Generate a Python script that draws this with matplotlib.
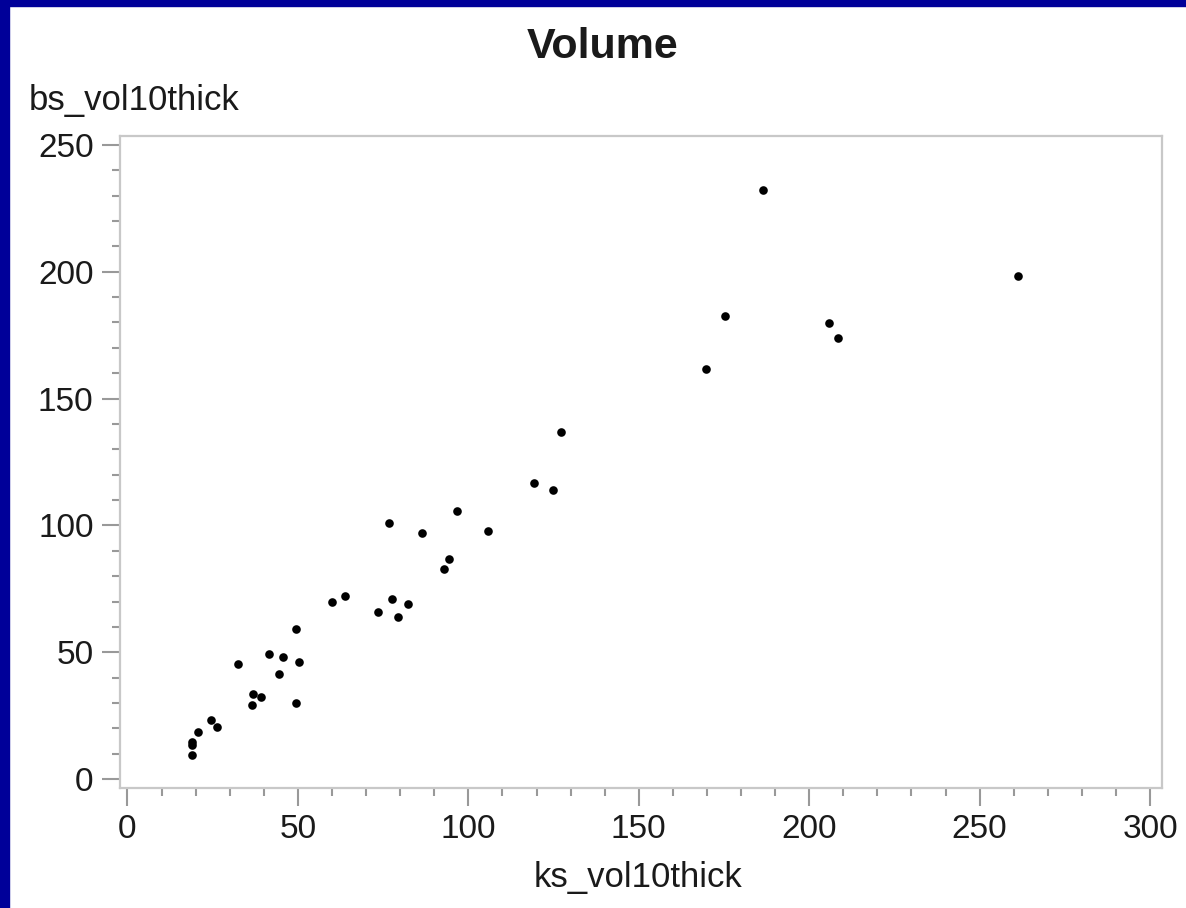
import matplotlib.pyplot as plt
from matplotlib.patches import Rectangle
from matplotlib.ticker import MultipleLocator

# Values
ks_vol10thick = [18.9, 18.9, 18.9, 20.8, 24.5, 26.4, 32.5, 36.7, 36.6, 39.2,
                 41.5, 44.5, 45.5, 49.4, 50.3, 49.4, 59.9, 63.8, 73.6, 77.5,
                 79.3, 82.4, 76.8, 86.3, 92.9, 94.3, 96.6, 105.7, 119.3, 124.9,
                 127.2, 169.7, 175.3, 186.5, 205.8, 208.4, 261.3]
bs_vol10thick = [9.5, 13.4, 14.8, 18.4, 23.3, 20.4, 45.2, 33.4, 29.2, 32.2,
                 49.3, 41.3, 48.2, 59.0, 46.3, 30.2, 69.9, 72.2, 66.0, 71.0,
                 64.0, 69.0, 100.8, 96.9, 82.9, 86.9, 105.8, 97.9, 116.6, 114.0,
                 136.8, 161.7, 182.6, 232.3, 179.8, 173.9, 198.3]

TEXT = '#1a1a1a'
FRAME = '#c8c8c8'
TICK = '#999999'
BORDER = '#000099'

plt.rcParams['font.family'] = ['Liberation Sans', 'DejaVu Sans']

fig = plt.figure(figsize=(11.86, 9.08), dpi=100)
fig.patch.set_facecolor('white')

# blue slide border on the left and top
fig.patches.append(Rectangle((0, 0), 8.5 / 1186, 1, transform=fig.transFigure,
                             color=BORDER, zorder=0))
fig.patches.append(Rectangle((0, 1 - 6 / 908), 1, 6 / 908, transform=fig.transFigure,
                             color=BORDER, zorder=0))

ax = fig.add_axes([120 / 1186, 1 - 788 / 908, 1042 / 1186, 652 / 908])
ax.plot(ks_vol10thick, bs_vol10thick, 'o', color='black', ms=6.2, mec='none')

ax.set_xlim(-2.2, 303.5)
ax.set_ylim(-3.5, 253.5)
ax.xaxis.set_major_locator(MultipleLocator(50))
ax.xaxis.set_minor_locator(MultipleLocator(10))
ax.yaxis.set_major_locator(MultipleLocator(50))
ax.yaxis.set_minor_locator(MultipleLocator(10))

for s in ax.spines.values():
    s.set_color(FRAME)
    s.set_linewidth(1.6)

ax.tick_params(which='major', direction='out', length=13, width=1.5,
               color=TICK, labelsize=24, labelcolor=TEXT, pad=6)
ax.tick_params(which='minor', direction='out', length=6, width=1.5, color=TICK)

fig.text(603 / 1186, 1 - 58 / 908, 'Volume', ha='center', va='baseline',
         fontsize=31, fontweight='bold', color=TEXT)
fig.text(29 / 1186, 1 - 110 / 908, 'bs_vol10thick', ha='left', va='baseline',
         fontsize=25, color=TEXT)
fig.text(638 / 1186, 1 - 887 / 908, 'ks_vol10thick', ha='center', va='baseline',
         fontsize=25, color=TEXT)

fig.savefig('out.png', dpi=100)
